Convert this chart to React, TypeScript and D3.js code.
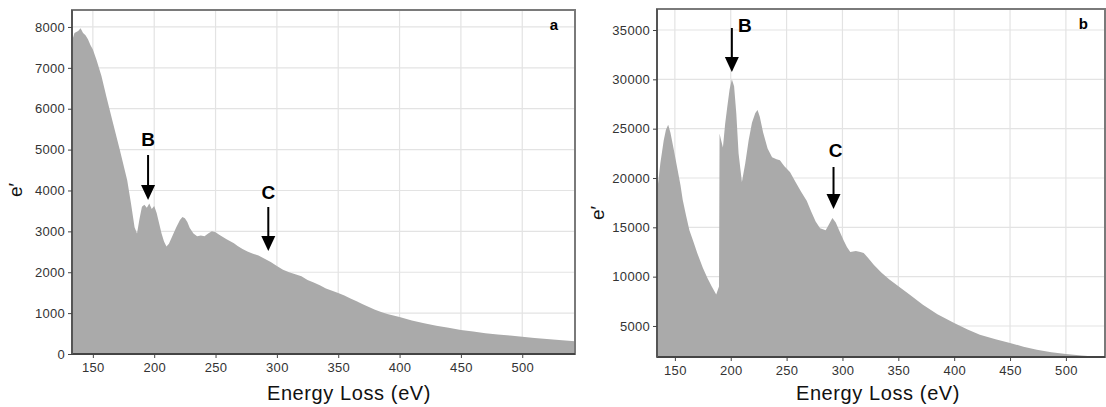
import React, { useEffect, useRef } from 'react';
import * as d3 from 'd3';

// panel a: energy loss (eV) vs counts
const energyA = [133, 135, 138, 140, 142, 144, 146, 148, 150, 153, 157, 161, 166, 172, 178, 181, 184, 186, 188, 190, 192, 194, 196, 198, 200, 202, 204, 206, 208, 210, 212, 215, 218, 221, 223, 225, 227, 229, 232, 235, 238, 241, 244, 247, 250, 253, 256, 259, 262, 265, 268, 272, 276, 280, 285, 290, 295, 300, 305, 310, 315, 320, 325, 330, 335, 340, 345, 350, 355, 360, 365, 370, 375, 380, 385, 390, 395, 400, 410, 420, 430, 440, 450, 460, 470, 480, 490, 500, 510, 520, 530, 543];
const countsA = [7650, 7850, 7900, 7970, 7850, 7800, 7700, 7560, 7450, 7190, 6800, 6300, 5700, 4990, 4250, 3700, 3100, 2950, 3300, 3600, 3650, 3580, 3680, 3550, 3620, 3450, 3200, 2950, 2750, 2630, 2700, 2900, 3100, 3280, 3350, 3320, 3230, 3080, 2950, 2880, 2900, 2880, 2950, 3000, 2980, 2920, 2860, 2810, 2760, 2710, 2640, 2570, 2510, 2460, 2410, 2330, 2250, 2150, 2060, 2000, 1950, 1900, 1810, 1750, 1680, 1600, 1550, 1490, 1430, 1360, 1290, 1220, 1150, 1080, 1030, 980, 940, 905, 820, 750, 690, 640, 590, 550, 510, 480, 450, 420, 390, 365, 340, 310];

// panel b
const energyB = [134, 137, 140, 142, 144, 146, 149, 152, 155, 157, 160, 163, 167, 170, 175, 179, 183, 187, 189.5, 190, 191, 193, 195, 197, 199, 201, 203, 205, 207, 210, 213, 216, 219, 222, 224, 226, 229, 233, 237, 241, 244, 248, 253, 258, 263, 268, 272, 276, 280, 285, 288, 291, 294, 297, 301, 304, 307, 312, 316, 319, 323, 328, 335, 342, 351, 360, 372, 385, 400, 412, 423, 437, 450, 462, 474, 487, 500, 514, 528, 535];
const countsB = [18500, 21500, 23800, 24900, 25400, 24600, 22900, 21100, 19300, 17800, 16200, 14700, 13400, 12400, 10900, 9900, 9000, 8200, 9000, 24500, 24000, 23100, 25500, 27300, 29000, 30000, 29300, 26500, 22500, 19600, 21500, 23800, 25600, 26600, 26900, 26200, 24600, 23000, 22100, 21900, 21800, 21200, 20600, 19600, 18600, 17700, 16600, 15600, 14900, 14700, 15300, 15950, 15500, 14700, 13700, 13000, 12500, 12600, 12500, 12400, 11900, 11200, 10400, 9700, 8950, 8200, 7150, 6200, 5300, 4650, 4100, 3650, 3280, 2900, 2580, 2350, 2160, 2000, 1880, 1860];

const xTicks = [150, 200, 250, 300, 350, 400, 450, 500];
const yTicksA = [0, 1000, 2000, 3000, 4000, 5000, 6000, 7000, 8000];
const yTicksB = [5000, 10000, 15000, 20000, 25000, 30000, 35000];

const FONT = 'Liberation Sans, Arial, sans-serif';

const App = () => {
  const svgRef = useRef<SVGSVGElement>(null);

  useEffect(() => {
    const svg = d3.select(svgRef.current);
    svg.selectAll('*').remove();

    const drawPanel = (opts) => {
      const { energy, counts, xDomain, yDomain, left, right, top, bottom, yTicks, tag, arrows, yTitleX, yTitleY, titleX } = opts;
      const x = d3.scaleLinear().domain(xDomain).range([left, right]);
      const y = d3.scaleLinear().domain(yDomain).range([bottom, top]);
      const g = svg.append('g');

      // grid
      g.append('g').selectAll('line').data(xTicks).enter().append('line')
        .attr('x1', d => x(d)).attr('x2', d => x(d))
        .attr('y1', top).attr('y2', bottom)
        .attr('stroke', '#e3e3e3').attr('stroke-width', 1.2);
      g.append('g').selectAll('line').data(yTicks).enter().append('line')
        .attr('x1', left).attr('x2', right)
        .attr('y1', d => y(d)).attr('y2', d => y(d))
        .attr('stroke', '#e3e3e3').attr('stroke-width', 1.2);

      const data = energy.map((e, i) => [e, counts[i]]);
      const area = d3.area()
        .x(d => x(d[0]))
        .y0(bottom)
        .y1(d => y(d[1]))
        .curve(d3.curveLinear);
      g.append('path').datum(data).attr('d', area).attr('fill', '#aaaaaa');

      // frame
      g.append('rect')
        .attr('x', left).attr('y', top)
        .attr('width', right - left).attr('height', bottom - top)
        .attr('fill', 'none').attr('stroke', '#7a7a7a').attr('stroke-width', 2);
      g.append('line').attr('x1', left).attr('x2', right).attr('y1', bottom).attr('y2', bottom)
        .attr('stroke', '#444').attr('stroke-width', 2);
      g.append('line').attr('x1', left).attr('x2', left).attr('y1', top).attr('y2', bottom)
        .attr('stroke', '#555').attr('stroke-width', 2);

      // axes
      const xAxis = g.append('g')
        .attr('transform', `translate(0,${bottom})`)
        .call(d3.axisBottom(x).tickValues(xTicks).tickSize(4).tickPadding(5).tickFormat(d3.format('d')));
      xAxis.select('.domain').remove();
      xAxis.selectAll('line').attr('stroke', '#444');
      xAxis.selectAll('text').attr('font-size', 13).attr('letter-spacing', 0.3).attr('fill', '#333').attr('font-family', FONT);

      const yAxis = g.append('g')
        .attr('transform', `translate(${left},0)`)
        .call(d3.axisLeft(y).tickValues(yTicks).tickSize(4).tickPadding(3).tickFormat(d3.format('d')));
      yAxis.select('.domain').remove();
      yAxis.selectAll('line').attr('stroke', '#444');
      yAxis.selectAll('text').attr('font-size', 13).attr('letter-spacing', 0.3).attr('fill', '#333').attr('font-family', FONT);

      g.append('text')
        .attr('x', titleX).attr('y', 400)
        .attr('text-anchor', 'middle')
        .attr('font-size', 20).attr('letter-spacing', 0.6).attr('font-family', FONT).attr('fill', '#111')
        .text('Energy Loss (eV)');

      g.append('text')
        .attr('transform', `translate(${yTitleX},${yTitleY}) rotate(-90)`)
        .attr('text-anchor', 'middle')
        .attr('font-size', 19).attr('font-family', FONT).attr('fill', '#111')
        .text('e\u2032');

      g.append('text')
        .attr('x', right - 17).attr('y', top + 20)
        .attr('text-anchor', 'end')
        .attr('font-size', 15).attr('font-weight', 'bold').attr('font-family', FONT)
        .text(tag);

      arrows.forEach(a => {
        const ax = x(a.at);
        g.append('text')
          .attr('x', ax + a.dx).attr('y', a.labelY)
          .attr('text-anchor', 'middle')
          .attr('font-size', 19).attr('font-weight', 'bold').attr('font-family', FONT)
          .text(a.label);
        g.append('line')
          .attr('x1', ax).attr('x2', ax)
          .attr('y1', a.y0).attr('y2', a.tip - 13)
          .attr('stroke', '#000').attr('stroke-width', 2);
        g.append('path')
          .attr('d', `M${ax - 7},${a.tip - 15}L${ax + 7},${a.tip - 15}L${ax},${a.tip}Z`)
          .attr('fill', '#000');
      });
    };

    drawPanel({
      energy: energyA, counts: countsA,
      xDomain: [133, 543], yDomain: [0, 8415],
      left: 72, right: 575, top: 10, bottom: 354,
      yTicks: yTicksA, tag: 'a', titleX: 349,
      yTitleX: 22, yTitleY: 190,
      arrows: [
        { label: 'B', at: 195, dx: 0, labelY: 146, y0: 155, tip: 200 },
        { label: 'C', at: 293, dx: 0, labelY: 199, y0: 207, tip: 251 },
      ],
    });

    drawPanel({
      energy: energyB, counts: countsB,
      xDomain: [134, 535], yDomain: [1856, 37130],
      left: 657, right: 1105, top: 9, bottom: 357,
      yTicks: yTicksB, tag: 'b', titleX: 878,
      yTitleX: 604, yTitleY: 213,
      arrows: [
        { label: 'B', at: 201, dx: 13, labelY: 32, y0: 28, tip: 72 },
        { label: 'C', at: 292, dx: 2, labelY: 157, y0: 167, tip: 209 },
      ],
    });
  }, []);

  return (
    <svg
      ref={svgRef}
      width={1106}
      height={407}
      style={{ position: 'absolute', left: 0, top: 0, background: '#fff' }}
    />
  );
};

export default App;
